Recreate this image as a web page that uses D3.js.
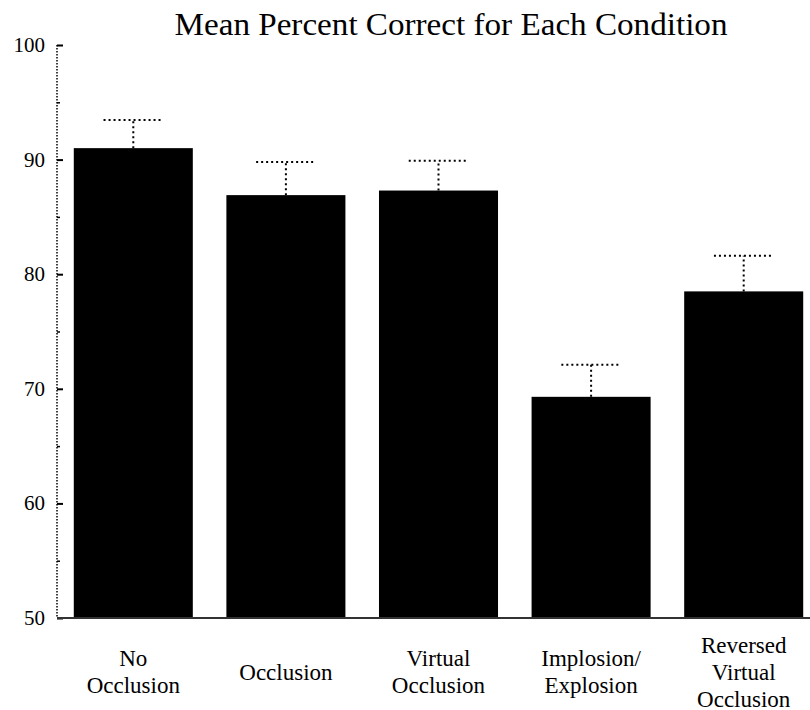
<!DOCTYPE html>
<html>
<head>
<meta charset="utf-8">
<script src="https://cdn.jsdelivr.net/npm/d3@7"></script>
<style>
  html, body { margin: 0; padding: 0; background: #fff; }
  svg { display: block; }
  text { font-family: "Liberation Serif", "Times New Roman", serif; fill: #000; }
</style>
</head>
<body>
<svg id="chart" width="810" height="710"></svg>
<script>
const categories = [
  ["No", "Occlusion"],
  ["Occlusion"],
  ["Virtual", "Occlusion"],
  ["Implosion/", "Explosion"],
  ["Reversed", "Virtual", "Occlusion"]
];
const means = [91.0, 86.9, 87.3, 69.3, 78.5];
const errors = [2.45, 2.9, 2.6, 2.8, 3.1];
const yTicks = [50, 60, 70, 80, 90, 100];
const yMinorTicks = [55, 65, 75, 85, 95];
const title = "Mean Percent Correct for Each Condition";

const svg = d3.select("#chart");
const plotLeft = 57, plotRight = 820, plotTop = 45, plotBottom = 618;

const x = d3.scaleBand()
  .domain(d3.range(categories.length))
  .range([plotLeft, plotRight])
  .paddingInner(0.22)
  .paddingOuter(0.11);

const y = d3.scaleLinear().domain([50, 100]).range([plotBottom, plotTop]);

// bars
svg.append("g").selectAll("rect")
  .data(means)
  .join("rect")
  .attr("x", (d, i) => x(i))
  .attr("y", d => y(d))
  .attr("width", x.bandwidth())
  .attr("height", d => y(50) - y(d))
  .attr("fill", "#000");

// error bars (upper only, dotted)
const eg = svg.append("g")
  .attr("stroke", "#000")
  .attr("stroke-width", 2)
  .attr("stroke-dasharray", "2,3");
means.forEach((m, i) => {
  const cx = x(i) + x.bandwidth() / 2;
  const capHalf = x.bandwidth() / 4;
  eg.append("line")
    .attr("x1", cx).attr("x2", cx)
    .attr("y1", y(m)).attr("y2", y(m + errors[i]));
  eg.append("line")
    .attr("x1", cx - capHalf).attr("x2", cx + capHalf)
    .attr("y1", y(m + errors[i])).attr("y2", y(m + errors[i]));
});

// y axis (dotted line)
svg.append("line")
  .attr("x1", plotLeft).attr("x2", plotLeft)
  .attr("y1", y(100)).attr("y2", y(50))
  .attr("stroke", "#000")
  .attr("stroke-width", 1.5)
  .attr("stroke-dasharray", "1.5,1.5");

const yAxis = d3.axisRight(y).tickValues(yTicks).tickSize(6).tickFormat("");
const ag = svg.append("g").attr("transform", `translate(${plotLeft},0)`).call(yAxis);
ag.select(".domain").remove();
ag.selectAll(".tick line").attr("stroke", "#000").attr("stroke-width", 2);

const yAxisMinor = d3.axisRight(y).tickValues(yMinorTicks).tickSize(3).tickFormat("");
const mg = svg.append("g").attr("transform", `translate(${plotLeft},0)`).call(yAxisMinor);
mg.select(".domain").remove();
mg.selectAll(".tick line").attr("stroke", "#000").attr("stroke-width", 1.5);

// y tick labels
svg.append("g").selectAll("text")
  .data(yTicks)
  .join("text")
  .attr("x", 45)
  .attr("y", d => y(d))
  .attr("text-anchor", "end")
  .attr("dominant-baseline", "central")
  .attr("font-size", 21)
  .text(d => d);

// baseline
svg.append("line")
  .attr("x1", plotLeft).attr("x2", 810)
  .attr("y1", y(50)).attr("y2", y(50))
  .attr("stroke", "#333")
  .attr("stroke-width", 2);

// category labels
const lg = svg.append("g");
categories.forEach((lines, i) => {
  const cx = x(i) + x.bandwidth() / 2;
  lines.forEach((t, j) => {
    lg.append("text")
      .attr("x", cx)
      .attr("y", 672 + (j - (lines.length - 1) / 2) * 27)
      .attr("text-anchor", "middle")
      .attr("dominant-baseline", "central")
      .attr("font-size", 23)
      .text(t);
  });
});

// title
svg.append("text")
  .attr("x", 451)
  .attr("y", 35)
  .attr("text-anchor", "middle")
  .attr("font-size", 31)
  .attr("textLength", 553)
  .attr("lengthAdjust", "spacingAndGlyphs")
  .text(title);
</script>
</body>
</html>
